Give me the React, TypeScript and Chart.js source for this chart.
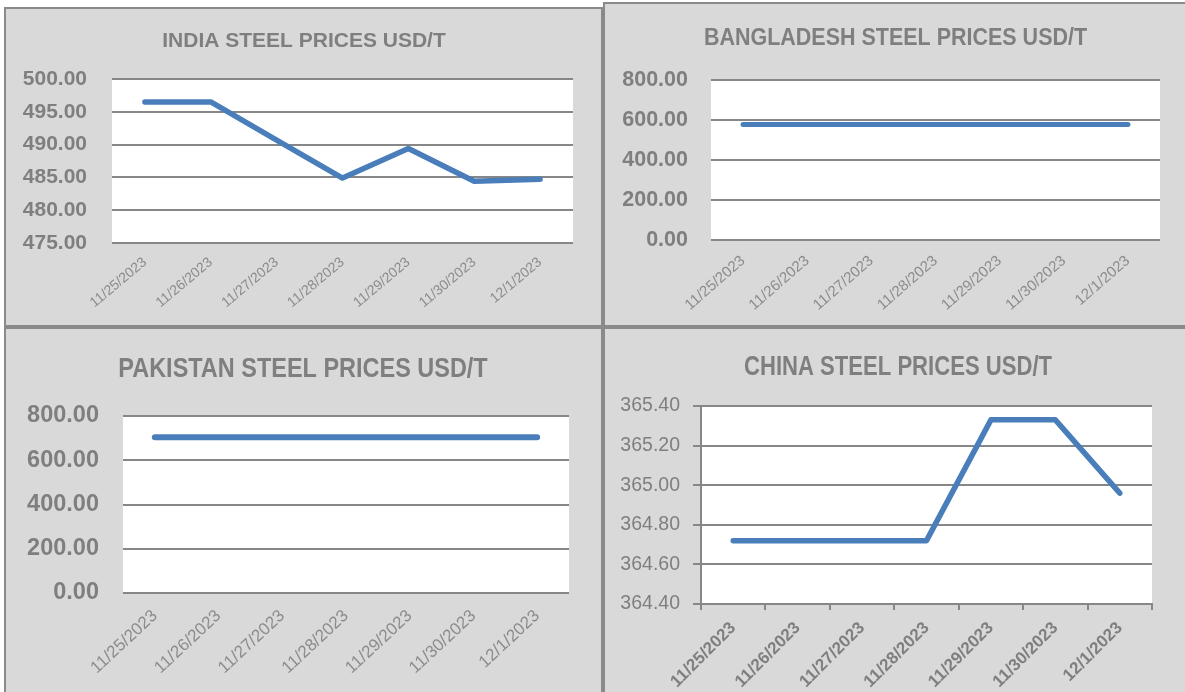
import React, { useEffect, useRef } from "react";
import { Chart, registerables } from "chart.js";

Chart.register(...registerables);

// ---------- data ----------
const dates = ["11/25/2023", "11/26/2023", "11/27/2023", "11/28/2023", "11/29/2023", "11/30/2023", "12/1/2023"];

const indiaPrices = [496.5, 496.5, 490.7, 484.9, 489.4, 484.4, 484.7];
const bangladeshPrices = [578, 578, 578, 578, 578, 578, 578];
const pakistanPrices = [704, 704, 704, 704, 704, 704, 704];
const chinaPrices = [364.72, 364.72, 364.72, 364.72, 365.33, 365.33, 364.96];

const indiaTicks = [475, 480, 485, 490, 495, 500];
const bangladeshTicks = [0, 200, 400, 600, 800];
const pakistanTicks = [0, 200, 400, 600, 800];
const chinaTicks = [364.4, 364.6, 364.8, 365.0, 365.2, 365.4];

const indiaTitle = "INDIA STEEL PRICES USD/T";
const bangladeshTitle = "BANGLADESH STEEL PRICES USD/T";
const pakistanTitle = "PAKISTAN STEEL PRICES USD/T";
const chinaTitle = "CHINA STEEL PRICES USD/T";

// ---------- styles ----------
const BLUE = "#4a7ebb";
const GRID = "#878787";
const TEXT = "#7f7f7f";
const SANS = "'Liberation Sans', Arial, sans-serif";

const plotBg = {
  id: "plotBg",
  beforeDraw(chart: any) {
    const { ctx, chartArea } = chart;
    if (!chartArea) return;
    ctx.save();
    ctx.fillStyle = "#ffffff";
    ctx.fillRect(chartArea.left, chartArea.top, chartArea.right - chartArea.left, chartArea.bottom - chartArea.top);
    ctx.restore();
  },
};

// chart title drawn as canvas text, horizontally condensed like the source
const panelTitle = {
  id: "panelTitle",
  afterDraw(chart: any, _args: any, opts: any) {
    if (!opts || !opts.text) return;
    const { ctx } = chart;
    ctx.save();
    ctx.font = `bold ${opts.size}px ${SANS}`;
    ctx.fillStyle = TEXT;
    ctx.textAlign = "center";
    ctx.textBaseline = "alphabetic";
    ctx.translate(opts.x, opts.y + 0.358 * opts.size);
    ctx.scale(opts.sx, 1);
    ctx.fillText(opts.text, 0, 0);
    ctx.restore();
  },
};

type Spec = {
  key: string;
  title: string;
  values: number[];
  ticks: number[];
  cx: number; cy: number; cw: number; ch: number;
  L: number; R: number; T: number; B: number;
  yPad: number; yFont: any; yTickLen: number;
  tSize: number; tSx: number; tX: number; tY: number;
  xPad: number; xFont: any; xColor: string; xTickLen: number; xRot: number;
  axisLines: boolean; lineWidth: number;
};

const specs: Spec[] = [
  {
    key: "india", title: indiaTitle, values: indiaPrices, ticks: indiaTicks,
    cx: 6, cy: 9, cw: 595, ch: 316,
    L: 112, R: 573, T: 79, B: 243,
    yPad: 25, yFont: { family: SANS, size: 21, weight: "bold" }, yTickLen: 0,
    tSize: 21, tSx: 1, tX: 304, tY: 39.5,
    xPad: 11, xFont: { family: SANS, size: 14 }, xColor: "#8c8c8c", xTickLen: 0, xRot: 40,
    axisLines: false, lineWidth: 5.5,
  },
  {
    key: "bangladesh", title: bangladeshTitle, values: bangladeshPrices, ticks: bangladeshTicks,
    cx: 605, cy: 4, cw: 580, ch: 321,
    L: 711, R: 1160, T: 80, B: 240,
    yPad: 23, yFont: { family: SANS, size: 21.5, weight: "bold" }, yTickLen: 0,
    tSize: 23, tSx: 0.934, tX: 895.5, tY: 36.7,
    xPad: 12, xFont: { family: SANS, size: 15 }, xColor: "#8c8c8c", xTickLen: 0, xRot: 41,
    axisLines: false, lineWidth: 5,
  },
  {
    key: "pakistan", title: pakistanTitle, values: pakistanPrices, ticks: pakistanTicks,
    cx: 6, cy: 329, cw: 595, ch: 363,
    L: 123, R: 569, T: 416, B: 593,
    yPad: 24, yFont: { family: SANS, size: 23.5, weight: "bold" }, yTickLen: 0,
    tSize: 28, tSx: 0.838, tX: 303, tY: 367,
    xPad: 13, xFont: { family: SANS, size: 17 }, xColor: "#8c8c8c", xTickLen: 0, xRot: 43,
    axisLines: false, lineWidth: 6,
  },
  {
    key: "china", title: chinaTitle, values: chinaPrices, ticks: chinaTicks,
    cx: 605, cy: 329, cw: 580, ch: 363,
    L: 701, R: 1152, T: 406, B: 604,
    yPad: 13, yFont: { family: SANS, size: 19.5 }, yTickLen: 8,
    tSize: 27, tSx: 0.818, tX: 898, tY: 365,
    xPad: 8, xFont: { family: SANS, size: 17, weight: "bold" }, xColor: "#7f7f7f", xTickLen: 6, xRot: 45,
    axisLines: true, lineWidth: 5.5,
  },
];

function makeConfig(s: Spec): any {
  const padRight = s.cx + s.cw - s.R;
  const padTop = s.T - s.cy;
  const yWidth = s.L - s.cx;
  const xHeight = s.cy + s.ch - s.B;
  return {
    type: "line",
    data: {
      labels: dates,
      datasets: [
        {
          data: s.values,
          borderColor: BLUE,
          borderWidth: s.lineWidth,
          pointRadius: 0,
          pointHoverRadius: 0,
          tension: 0,
          fill: false,
          borderCapStyle: "round",
          borderJoinStyle: "round",
        },
      ],
    },
    options: {
      animation: false,
      responsive: false,
      devicePixelRatio: 1,
      events: [],
      layout: { padding: { left: 0, right: padRight, top: padTop, bottom: 0 } },
      plugins: {
        legend: { display: false },
        tooltip: { enabled: false },
        title: { display: false },
        panelTitle: {
          text: s.title,
          size: s.tSize,
          sx: s.tSx,
          x: s.tX - s.cx,
          y: s.tY - s.cy,
        },
      },
      scales: {
        x: {
          type: "category",
          offset: true,
          grid: {
            display: s.xTickLen > 0,
            drawOnChartArea: false,
            drawTicks: s.xTickLen > 0,
            tickLength: s.xTickLen,
            offset: true,
            color: GRID,
            lineWidth: 2,
          },
          border: { display: s.axisLines, color: GRID, width: 2 },
          ticks: {
            autoSkip: false,
            minRotation: s.xRot,
            maxRotation: s.xRot,
            padding: s.xPad,
            color: s.xColor,
            font: s.xFont,
          },
          afterFit: (sc: any) => {
            sc.height = xHeight;
          },
        },
        y: {
          min: s.ticks[0],
          max: s.ticks[s.ticks.length - 1],
          grid: {
            color: GRID,
            lineWidth: 2,
            drawTicks: s.yTickLen > 0,
            tickLength: s.yTickLen,
          },
          border: { display: s.axisLines, color: GRID, width: 2 },
          ticks: {
            padding: s.yPad,
            color: TEXT,
            font: s.yFont,
            callback: (v: any) => Number(v).toFixed(2),
          },
          afterBuildTicks: (sc: any) => {
            sc.ticks = s.ticks.map((v) => ({ value: v }));
          },
          afterFit: (sc: any) => {
            sc.width = yWidth;
          },
        },
      },
    },
    plugins: [plotBg, panelTitle],
  };
}

function ChartCanvas({ spec }: { spec: Spec }) {
  const ref = useRef<HTMLCanvasElement | null>(null);
  useEffect(() => {
    if (!ref.current) return;
    const chart = new Chart(ref.current, makeConfig(spec));
    return () => chart.destroy();
  }, [spec]);
  return (
    <canvas
      ref={ref}
      width={spec.cw}
      height={spec.ch}
      style={{ position: "absolute", left: spec.cx, top: spec.cy, width: spec.cw, height: spec.ch }}
    />
  );
}

const panels = [
  { key: "tl", x: 4, y: 7, w: 599, h: 320 },
  { key: "tr", x: 603, y: 2, w: 584, h: 325 },
  { key: "bl", x: 4, y: 327, w: 599, h: 370 },
  { key: "br", x: 603, y: 327, w: 584, h: 370 },
];

export default function App() {
  return (
    <div
      style={{
        position: "fixed",
        left: 0,
        top: 0,
        width: 1185,
        height: 692,
        background: "#ffffff",
        overflow: "hidden",
      }}
    >
      {panels.map((p) => (
        <div
          key={p.key}
          style={{
            position: "absolute",
            left: p.x,
            top: p.y,
            width: p.w,
            height: p.h,
            boxSizing: "border-box",
            border: "2px solid #8a8a8a",
            background: "#d9d9d9",
          }}
        />
      ))}
      {specs.map((s) => (
        <ChartCanvas key={s.key} spec={s} />
      ))}
    </div>
  );
}
